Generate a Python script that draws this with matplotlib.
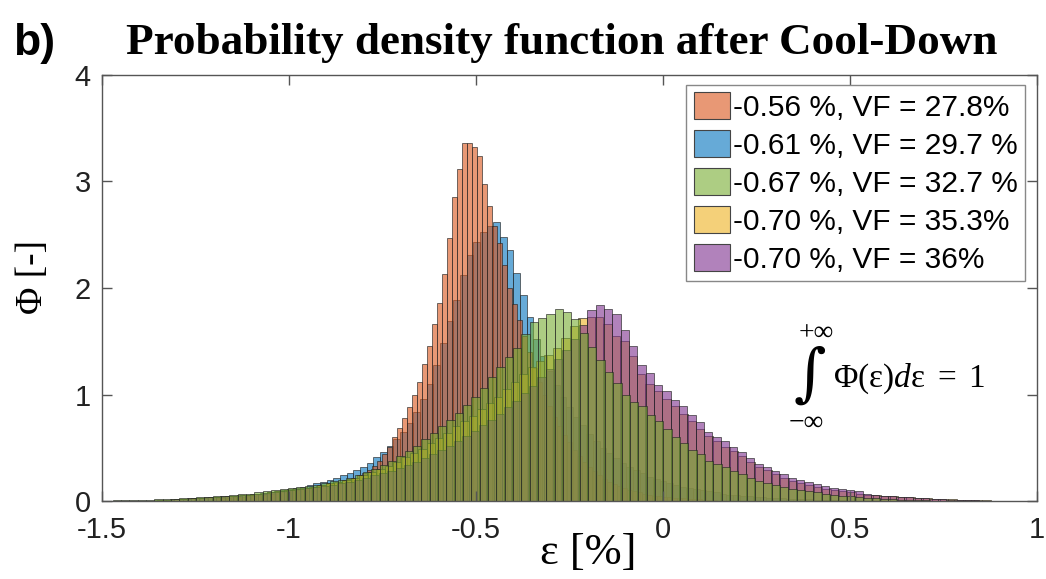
import matplotlib
matplotlib.use("Agg")
import matplotlib.pyplot as plt
from matplotlib.patches import Patch
import numpy as np

plt.rcParams['font.family'] = ['Liberation Sans', 'DejaVu Sans']
plt.rcParams['axes.unicode_minus'] = False
plt.rcParams['mathtext.fontset'] = 'custom'
plt.rcParams['mathtext.rm'] = 'Liberation Serif'
plt.rcParams['mathtext.it'] = 'Liberation Serif:italic'

# series labels (legend order)
labels = ["-0.56 %, VF = 27.8%", "-0.61 %, VF = 29.7 %", "-0.67 %, VF = 32.7 %",
          "-0.70 %, VF = 35.3%", "-0.70 %, VF = 36%"]

# histogram bins: first edge and bin width of each series, 100 bins each
orange_start, orange_w = -1.1946, 0.0134
blue_start, blue_w = -1.2906, 0.0178
green_start, green_w = -1.516, 0.0223
yellow_start, yellow_w = -1.352, 0.0225
purple_start, purple_w = -1.362, 0.0223

# pdf values
orange = [0.03, 0.03, 0.03, 0.04, 0.04, 0.04, 0.05, 0.05, 0.06, 0.06,
          0.07, 0.07, 0.08, 0.08, 0.09, 0.10, 0.10, 0.11, 0.12, 0.13,
          0.14, 0.15, 0.16, 0.17, 0.18, 0.19, 0.21, 0.22, 0.24, 0.26,
          0.29, 0.33, 0.38, 0.44, 0.51, 0.60, 0.69, 0.78, 0.88, 1.00,
          1.12, 1.29, 1.46, 1.66, 1.86, 2.13, 2.47, 2.85, 3.12, 3.36,
          3.36, 3.32, 3.24, 2.98, 2.77, 2.58, 2.42, 2.22, 2.00, 1.85,
          1.70, 1.55, 1.40, 1.25, 1.12, 1.00, 0.89, 0.79, 0.70, 0.62,
          0.55, 0.48, 0.42, 0.37, 0.32, 0.28, 0.24, 0.21, 0.18, 0.16,
          0.14, 0.12, 0.10, 0.09, 0.08, 0.07, 0.06, 0.05, 0.05, 0.04,
          0.04, 0.03, 0.03, 0.03, 0.02, 0.02, 0.02, 0.01, 0.01, 0.01]

blue = [0.020, 0.022, 0.025, 0.028, 0.030, 0.035, 0.040, 0.045, 0.050, 0.055,
        0.060, 0.067, 0.074, 0.082, 0.090, 0.100, 0.110, 0.120, 0.135, 0.150,
        0.165, 0.180, 0.200, 0.220, 0.240, 0.265, 0.290, 0.320, 0.360, 0.410,
        0.46, 0.52, 0.58, 0.65, 0.73, 0.84, 0.96, 1.10, 1.28, 1.48,
        1.69, 1.89, 2.12, 2.31, 2.43, 2.53, 2.58, 2.62, 2.48, 2.36,
        2.14, 1.93, 1.73, 1.52, 1.36, 1.22, 1.09, 0.98, 0.88, 0.79,
        0.71, 0.63, 0.56, 0.50, 0.45, 0.40, 0.36, 0.32, 0.29, 0.26,
        0.23, 0.21, 0.19, 0.17, 0.15, 0.13, 0.12, 0.11, 0.10, 0.09,
        0.08, 0.07, 0.06, 0.06, 0.05, 0.05, 0.04, 0.04, 0.03, 0.03,
        0.03, 0.02, 0.02, 0.02, 0.02, 0.01, 0.01, 0.01, 0.01, 0.01]

green = [0.003, 0.004, 0.005, 0.006, 0.008, 0.010, 0.012, 0.015, 0.018, 0.020,
         0.025, 0.030, 0.035, 0.040, 0.045, 0.050, 0.060, 0.065, 0.070, 0.080,
         0.09, 0.10, 0.11, 0.12, 0.13, 0.14, 0.155, 0.17, 0.185, 0.20,
         0.22, 0.245, 0.27, 0.30, 0.34, 0.38, 0.42, 0.47, 0.52, 0.58,
         0.64, 0.70, 0.76, 0.83, 0.90, 0.98, 1.06, 1.16, 1.26, 1.35,
         1.44, 1.57, 1.68, 1.72, 1.76, 1.80, 1.77, 1.71, 1.58, 1.45,
         1.32, 1.21, 1.11, 1.00, 0.93, 0.89, 0.81, 0.75, 0.68, 0.60,
         0.54, 0.48, 0.44, 0.38, 0.35, 0.32, 0.28, 0.25, 0.22, 0.19,
         0.17, 0.15, 0.13, 0.115, 0.10, 0.09, 0.08, 0.07, 0.06, 0.05,
         0.045, 0.04, 0.03, 0.025, 0.02, 0.015, 0.01, 0.01, 0.005, 0.005]

yellow = [0.010, 0.012, 0.015, 0.020, 0.025, 0.030, 0.035, 0.040, 0.045, 0.050,
          0.060, 0.065, 0.070, 0.080, 0.090, 0.100, 0.110, 0.120, 0.135, 0.150,
          0.165, 0.18, 0.20, 0.22, 0.245, 0.27, 0.30, 0.33, 0.37, 0.41,
          0.45, 0.49, 0.54, 0.59, 0.64, 0.70, 0.75, 0.80, 0.86, 0.92,
          0.98, 1.05, 1.12, 1.19, 1.26, 1.31, 1.37, 1.44, 1.53, 1.64,
          1.72, 1.73, 1.73, 1.66, 1.55, 1.50, 1.36, 1.19, 1.10, 1.03,
          0.96, 0.89, 0.82, 0.75, 0.68, 0.61, 0.56, 0.51, 0.47, 0.42,
          0.37, 0.32, 0.29, 0.25, 0.22, 0.19, 0.17, 0.15, 0.13, 0.115,
          0.10, 0.09, 0.08, 0.07, 0.06, 0.055, 0.05, 0.045, 0.04, 0.035,
          0.03, 0.025, 0.02, 0.018, 0.015, 0.012, 0.01, 0.008, 0.006, 0.004]

purple = [0.010, 0.013, 0.017, 0.020, 0.025, 0.030, 0.035, 0.040, 0.045, 0.050,
          0.055, 0.060, 0.070, 0.075, 0.080, 0.090, 0.100, 0.110, 0.120, 0.130,
          0.14, 0.15, 0.165, 0.18, 0.20, 0.22, 0.24, 0.26, 0.28, 0.31,
          0.34, 0.37, 0.40, 0.44, 0.48, 0.52, 0.56, 0.61, 0.66, 0.71,
          0.76, 0.82, 0.88, 0.94, 1.01, 1.08, 1.16, 1.24, 1.33, 1.42,
          1.52, 1.65, 1.79, 1.84, 1.80, 1.76, 1.61, 1.46, 1.28, 1.20,
          1.09, 1.03, 0.95, 0.89, 0.81, 0.74, 0.65, 0.60, 0.56, 0.51,
          0.46, 0.40, 0.35, 0.32, 0.28, 0.25, 0.22, 0.20, 0.18, 0.16,
          0.14, 0.12, 0.11, 0.10, 0.09, 0.07, 0.06, 0.05, 0.045, 0.04,
          0.035, 0.03, 0.025, 0.02, 0.015, 0.012, 0.01, 0.008, 0.005, 0.004]

c_orange = (0.850, 0.325, 0.098)
c_blue = (0.000, 0.447, 0.741)
c_green = (0.466, 0.674, 0.188)
c_yellow = (0.929, 0.694, 0.125)
c_purple = (0.494, 0.184, 0.556)
alpha = 0.6

fig = plt.figure(figsize=(10.46, 5.79), dpi=100)
ax = fig.add_axes([0.0975, 0.1347, 0.894, 0.7358])

# drawing order chosen so the overlaps mix like the original
series = [(blue, blue_start, blue_w, c_blue),
          (orange, orange_start, orange_w, c_orange),
          (yellow, yellow_start, yellow_w, c_yellow),
          (purple, purple_start, purple_w, c_purple),
          (green, green_start, green_w, c_green)]
for vals, start, w, col in series:
    left = start + w * np.arange(len(vals))
    ax.bar(left, vals, width=w, align='edge', facecolor=col + (alpha,),
           edgecolor=(0.15, 0.15, 0.15, 0.75), linewidth=0.6)

ax.set_xlim(-1.5, 1)
ax.set_ylim(0, 4)
ax.set_xticks([-1.5, -1, -0.5, 0, 0.5, 1])
ax.set_xticklabels(["-1.5", "-1", "-0.5", "0", "0.5", "1"])
ax.set_yticks([0, 1, 2, 3, 4])
ax.tick_params(direction='in', length=7, width=1, colors='#555555',
               labelcolor='#222222', labelsize=21, top=True, right=True, pad=8)
ax.tick_params(axis='x', pad=11)
for s in ax.spines.values():
    s.set_color('#555555')
    s.set_linewidth(1)

ax.set_xlabel("ε [%]", family='Liberation Serif', fontsize=32)
ax.xaxis.set_label_coords(0.52, -0.075)
ax.set_ylabel("Φ [-]", family='Liberation Serif', fontsize=27)
ax.yaxis.set_label_coords(-0.056, 0.526)

handles = [Patch(facecolor=c + (alpha,), edgecolor='#444444', linewidth=0.8)
           for c in [c_orange, c_blue, c_green, c_yellow, c_purple]]
leg = ax.legend(handles, labels, loc='upper right', bbox_to_anchor=(0.987, 0.977),
                borderaxespad=0, fontsize=21.5, handlelength=1.2, handleheight=1.0,
                handletextpad=0.1, labelspacing=0.28, borderpad=0.25,
                fancybox=False, framealpha=1, edgecolor='#888888')
leg.get_frame().set_linewidth(1)

# integral annotation
ax.text(0.41, 1.57, "+∞", family='Liberation Serif', fontsize=20, ha='center', va='center')
ax.text(0.393, 1.17, "∫", family='DejaVu Serif', fontsize=45, ha='center', va='center')
ax.text(0.382, 0.73, "−∞", family='Liberation Serif', fontsize=20, ha='center', va='center')
ax.text(0.455, 1.15, r"$\mathrm{Φ(ε)}d\mathrm{ε}\ =\ 1$", fontsize=24, ha='left', va='center')

fig.text(0.537, 0.925, "Probability density function after Cool-Down",
         family='Liberation Serif', fontweight='bold', fontsize=32.5, ha='center', va='center')
fig.text(0.012, 0.925, "b)", fontweight='bold', fontsize=32, ha='left', va='center')

fig.savefig("out.png", dpi=100)
